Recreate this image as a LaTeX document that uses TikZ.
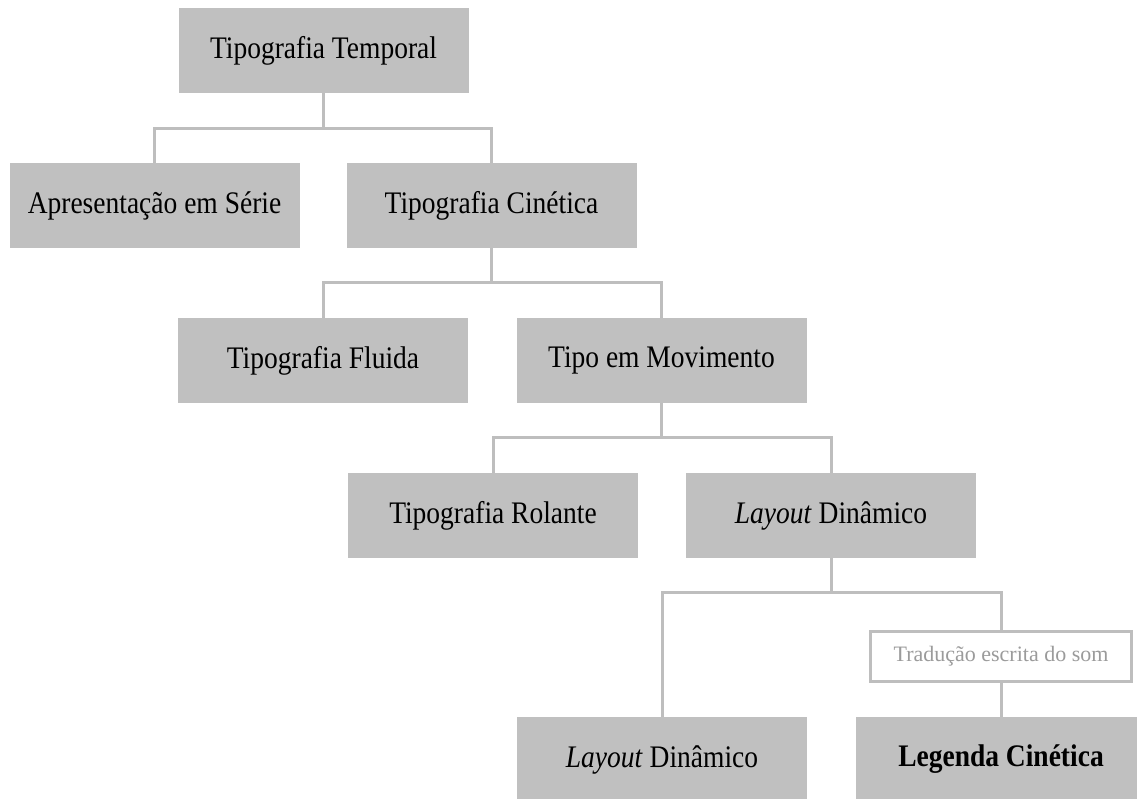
\documentclass[tikz,border=0pt]{standalone}
\usepackage{graphicx}
\usepackage{fontspec}
\setmainfont{Liberation Serif}
\definecolor{boxgray}{RGB}{192,192,192}
\definecolor{linegray}{RGB}{190,190,190}
\definecolor{notegray}{RGB}{155,155,155}
\newcommand{\vstretch}[1]{\scalebox{1}[1.14]{#1}}
\tikzset{
  box/.style={fill=boxgray, minimum width=290pt, minimum height=85pt, inner sep=0pt,
    text=black, font=\fontsize{27.5}{33}\selectfont},
  conn/.style={draw=linegray, line width=3pt, line join=miter},
  note/.style={draw=linegray, line width=3pt, fill=white, minimum width=261pt,
    minimum height=50pt, inner sep=0pt, text=notegray, font=\fontsize{22}{26}\selectfont}
}
\begin{document}
\begin{tikzpicture}[x=1pt,y=-1pt]
\useasboundingbox (0,0) rectangle (1137,798);
\clip (0,0) rectangle (1137,798);
% nodes
\node[box] (t1) at (323.5,50.5) {\vstretch{Tipografia Temporal}};
\node[box] (a)  at (154.5,205.5) {\vstretch{Apresentação em Série}};
\node[box] (c)  at (491.5,205.5) {\vstretch{Tipografia Cinética}};
\node[box] (f)  at (323,360.5) {\vstretch{Tipografia Fluida}};
\node[box] (m)  at (661.5,360.5) {\vstretch{Tipo em Movimento}};
\node[box] (r)  at (493,515.5) {\vstretch{Tipografia Rolante}};
\node[box] (l)  at (831,515.5) {\vstretch{\textit{Layout} Dinâmico}};
\node[box] (l2) at (662,759.5) {\vstretch{\textit{Layout} Dinâmico}};
\node[box] (lg) at (1001,759.5) {\vstretch{\textbf{Legenda Cinética}}};
\node[note] (tr) at (1001,656.5) {Tradução escrita do som};
% connectors
\draw[conn] (t1.south) -- ++(0,35) coordinate (j1);
\draw[conn] (a.north) |- (j1) -| (c.north);
\draw[conn] (c.south) -- ++(0,34) coordinate (j2);
\draw[conn] (f.north) |- (j2) -| (m.north);
\draw[conn] (m.south) -- ++(0,34) coordinate (j3);
\draw[conn] (r.north) |- (j3) -| (l.north);
\draw[conn] (l.south) -- ++(0,34) coordinate (j4);
\draw[conn] (l2.north) |- (j4) -| (tr.north);
\draw[conn] (tr.south) -- (lg.north);
\end{tikzpicture}
\end{document}
